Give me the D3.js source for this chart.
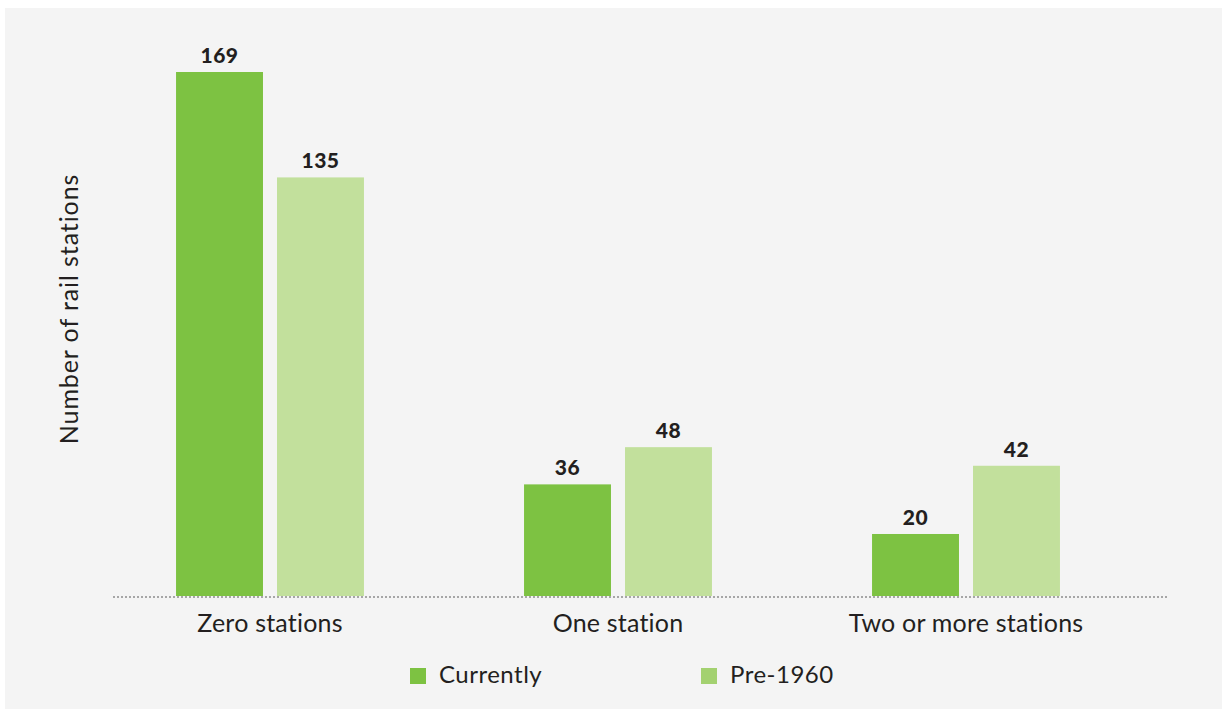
<!DOCTYPE html>
<html>
<head>
<meta charset="utf-8">
<script src="https://cdn.jsdelivr.net/npm/d3@7"></script>
<style>
  html, body { margin: 0; padding: 0; background: #ffffff; }
  svg { display: block; }
  text { font-family: Lato, "Open Sans", sans-serif; fill: #231f20; }
</style>
</head>
<body>
<svg id="chart" width="1227" height="711"></svg>
<script>
const categories = ["Zero stations", "One station", "Two or more stations"];
const seriesNames = ["Currently", "Pre-1960"];
const currently = [169, 36, 20];
const pre1960 = [135, 48, 42];
const yLabel = "Number of rail stations";

const barColors = ["#7dc242", "#c2e09c"];
const legendColors = ["#7dc242", "#a3d170"];

const svg = d3.select("#chart");
const W = 1227, H = 711;

svg.append("rect").attr("x", 0).attr("y", 0).attr("width", W).attr("height", H).attr("fill", "#ffffff");
svg.append("rect").attr("x", 5).attr("y", 8).attr("width", 1217).attr("height", 701).attr("fill", "#f4f4f4");

const baseY = 596;
const y = d3.scaleLinear().domain([0, 169]).range([baseY, 72]);
const x0 = d3.scaleBand().domain(categories).range([96, 1140]).paddingInner(0.46).paddingOuter(0.23);
const x1 = d3.scaleBand().domain(seriesNames).range([0, x0.bandwidth()]).paddingInner(0.139);
const color = d3.scaleOrdinal().domain(seriesNames).range(barColors);

const rows = categories.map((c, i) => ({ cat: c, vals: [
  { s: seriesNames[0], v: currently[i] },
  { s: seriesNames[1], v: pre1960[i] }
]}));

const groups = svg.append("g").selectAll("g").data(rows).join("g")
  .attr("transform", d => `translate(${x0(d.cat)},0)`);

groups.selectAll("rect").data(d => d.vals).join("rect")
  .attr("x", d => x1(d.s))
  .attr("y", d => y(d.v))
  .attr("width", x1.bandwidth())
  .attr("height", d => baseY - y(d.v))
  .attr("fill", d => color(d.s));

groups.selectAll("text.val").data(d => d.vals).join("text")
  .attr("class", "val")
  .attr("x", d => x1(d.s) + x1.bandwidth() / 2)
  .attr("y", d => y(d.v) - 9)
  .attr("text-anchor", "middle")
  .style("font-weight", "900")
  .style("font-size", "21px")
  .style("letter-spacing", "0.5px")
  .text(d => d.v);

// dotted baseline
svg.append("line")
  .attr("x1", 113).attr("x2", 1168)
  .attr("y1", baseY + 1).attr("y2", baseY + 1)
  .attr("stroke", "#a6a6a6")
  .attr("stroke-width", 2)
  .attr("stroke-dasharray", "2,2");

// category axis
const xAxis = d3.axisBottom(x0).tickSize(0).tickPadding(0);
const ax = svg.append("g").attr("transform", `translate(0,${baseY})`).call(xAxis);
ax.select(".domain").remove();
ax.selectAll("text")
  .attr("y", 36)
  .attr("dy", 0)
  .style("font-size", "25px")
  .style("letter-spacing", "0.2px")
  .style("font-family", "Lato, 'Open Sans', sans-serif")
  .attr("fill", "#231f20");

// y label
svg.append("text")
  .attr("transform", "translate(78,309) rotate(-90)")
  .attr("text-anchor", "middle")
  .style("font-size", "25px")
  .style("letter-spacing", "0.9px")
  .text(yLabel);

// legend
const legendX = [410, 701];
const lg = svg.append("g").selectAll("g").data(seriesNames).join("g")
  .attr("transform", (d, i) => `translate(${legendX[i]},668)`);
lg.append("rect").attr("width", 16).attr("height", 16).attr("fill", (d, i) => legendColors[i]);
lg.append("text").attr("x", 29).attr("y", 15).style("font-size", "24px").style("letter-spacing", "0.5px").text(d => d);
</script>
</body>
</html>
